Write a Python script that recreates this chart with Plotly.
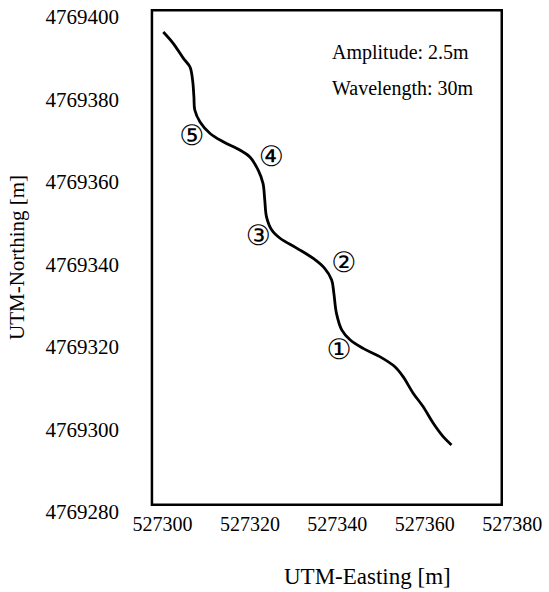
import plotly.graph_objects as go

# Data
easting = [527300.2, 527302.5, 527304.8, 527306.3, 527306.9, 527307.2, 527307.4, 527308.6,
           527310.9, 527313.9, 527317.7, 527320.0, 527321.9, 527323.0, 527323.4, 527323.8,
           527325.0, 527326.9, 527330.7, 527334.5, 527337.1, 527338.7, 527339.2, 527339.8,
           527341.0, 527342.9, 527345.9, 527349.7, 527353.1, 527355.0, 527357.3, 527359.6,
           527361.9, 527364.2, 527366.1]
northing = [4769396.3, 4769393.5, 4769389.9, 4769387.8, 4769384.6, 4769380.6, 4769377.4, 4769374.5,
            4769371.7, 4769369.7, 4769367.7, 4769366.0, 4769362.8, 4769359.6, 4769355.6, 4769351.5,
            4769348.3, 4769346.3, 4769343.9, 4769341.4, 4769339.0, 4769336.2, 4769333.0, 4769328.1,
            4769324.1, 4769321.7, 4769319.6, 4769317.6, 4769315.2, 4769312.8, 4769308.8, 4769305.5,
            4769301.5, 4769298.2, 4769296.2]

marker_labels = ["①", "②", "③", "④", "⑤"]
marker_x = [527340.4, 527341.5, 527321.9, 527324.9, 527306.7]
marker_y = [4769318.8, 4769339.8, 4769346.3, 4769365.6, 4769370.5]

x_ticks = [527300, 527320, 527340, 527360, 527380]
y_ticks = [4769280, 4769300, 4769320, 4769340, 4769360, 4769380, 4769400]

info_lines = ["Amplitude: 2.5m", "Wavelength: 30m"]
info_x = 527338.4
info_y = [4769391.4, 4769382.7]

frame_x = [527297.6, 527377.6]
frame_y = [4769281.7, 4769401.6]

W, H = 549, 592
x_range = [527296.7, 527382.0]
y_range = [4769278.0, 4769402.6]
kx = 4.375   # px per m
ky = 4.129
left = 162.5 + (x_range[0] - 527300) * kx
right = 162.5 + (x_range[1] - 527300) * kx
top = 16.5 - (y_range[1] - 4769400) * ky
bottom = 16.5 - (y_range[0] - 4769400) * ky
xaxis_pos = (bottom - 505) / (bottom - top)

serif = "Liberation Serif"

fig = go.Figure()
fig.add_trace(go.Scatter(x=easting, y=northing, mode="lines",
                         line=dict(color="black", width=2.8, shape="spline", smoothing=1.0),
                         hoverinfo="skip", showlegend=False))
fig.add_trace(go.Scatter(x=marker_x, y=marker_y, mode="text", text=marker_labels,
                         textfont=dict(family="DejaVu Sans", size=28, color="black"),
                         hoverinfo="skip", showlegend=False))

fig.add_shape(type="rect", xref="x", yref="y",
              x0=frame_x[0], x1=frame_x[1], y0=frame_y[0], y1=frame_y[1],
              line=dict(color="black", width=2.5), fillcolor="rgba(0,0,0,0)", layer="above")

for t, yy in zip(info_lines, info_y):
    fig.add_annotation(x=info_x, y=yy, xref="x", yref="y", text=t, showarrow=False,
                       xanchor="left", yanchor="middle",
                       font=dict(family=serif, size=20, color="black"))

fig.add_annotation(x=(368 - left) / (right - left), y=(bottom - 577) / (bottom - top),
                   xref="paper", yref="paper", text="UTM-Easting [m]", showarrow=False,
                   xanchor="center", yanchor="middle",
                   font=dict(family=serif, size=23, color="black"))
fig.add_annotation(x=(17 - left) / (right - left), y=(bottom - 258) / (bottom - top),
                   xref="paper", yref="paper", text="UTM-Northing [m]", showarrow=False,
                   textangle=-90, xanchor="center", yanchor="middle",
                   font=dict(family=serif, size=21, color="black"))

fig.update_layout(
    width=W, height=H,
    margin=dict(l=left, r=W - right, t=top, b=H - bottom, pad=0),
    paper_bgcolor="white", plot_bgcolor="white",
    xaxis=dict(range=x_range, tickvals=x_ticks, ticktext=[str(v) for v in x_ticks],
               showgrid=False, zeroline=False, showline=False, ticks="",
               anchor="free", position=xaxis_pos, ticklabelstandoff=5,
               tickfont=dict(family=serif, size=20, color="black"), fixedrange=True),
    yaxis=dict(range=y_range, tickvals=y_ticks, ticktext=[str(v) for v in y_ticks],
               showgrid=False, zeroline=False, showline=False, ticks="",
               ticklabelstandoff=28,
               tickfont=dict(family=serif, size=21, color="black"), fixedrange=True),
)

fig.write_html("out.html")
